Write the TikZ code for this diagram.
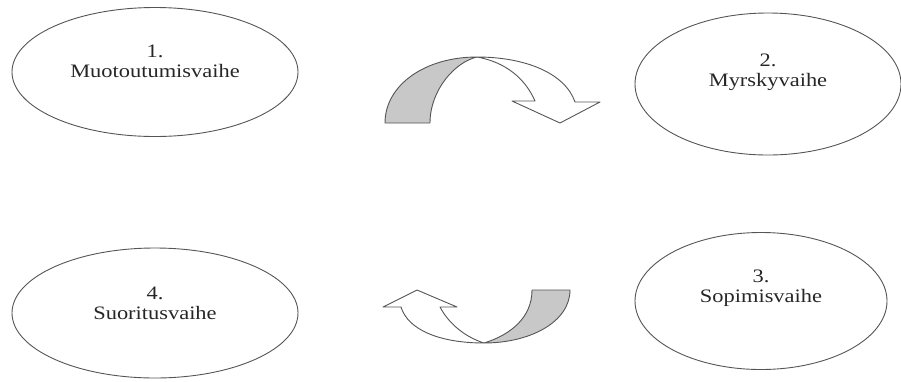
\documentclass[tikz,border=0pt]{standalone}
\usepackage{fontspec}
\setmainfont{Liberation Serif}[FakeStretch=1.18]
\usetikzlibrary{shapes.geometric}
\definecolor{rim}{RGB}{85,85,85}
\definecolor{shade}{RGB}{200,200,200}
\tikzset{
	phase/.style={draw=rim,line width=0.9pt,ellipse,inner sep=0pt},
	phasetext/.style={text=black!85,align=center,font=\fontsize{19}{20}\selectfont},
	band/.style={draw=rim,line width=0.9pt,line join=round}
}
\begin{document}
\begin{tikzpicture}[x=1pt,y=-1pt]
		\useasboundingbox (0,0) rectangle (901,381);
		
		% Vaiheet
		\node[phase,minimum width=286pt,minimum height=129pt,label={[phasetext,yshift=11pt]center:1.\\Muotoutumisvaihe}] (e1) at (155,72) {};
		\node[phase,minimum width=266pt,minimum height=142pt,label={[phasetext,yshift=12pt]center:2.\\Myrskyvaihe}] (e2) at (768,84) {};
		\node[phase,minimum width=252pt,minimum height=137pt,label={[phasetext,yshift=13pt]center:3.\\Sopimisvaihe}] (e3) at (761,301) {};
		\node[phase,minimum width=286pt,minimum height=130pt,label={[phasetext,yshift=10pt]center:4.\\Suoritusvaihe}] (e4) at (155,313) {};
		
		% Ylanuoli (1 -> 2)
		\draw[band,fill=shade] (385,123) .. controls (385,85) and (425,57) .. (477,57)
			.. controls (455,62) and (430,90) .. (430,123) -- cycle;
		\draw[band,fill=white] (477,57) .. controls (525,57) and (565,73) .. (575,102)
			-- (600,102) -- (560,123) -- (512,101) -- (535,101)
			.. controls (525,78) and (505,62) .. (477,57) -- cycle;
		
		% Alanuoli (3 -> 4)
		\draw[band,fill=shade] (532,290) -- (570,290) .. controls (570,322) and (530,343) .. (484,343)
			.. controls (510,335) and (532,318) .. (532,290) -- cycle;
		\draw[band,fill=white] (484,343) .. controls (440,343) and (408,330) .. (401,307)
			-- (383,307) -- (417,290) -- (457,307) -- (440,307)
			.. controls (450,326) and (468,338) .. (484,343) -- cycle;
	\end{tikzpicture}
\end{document}
